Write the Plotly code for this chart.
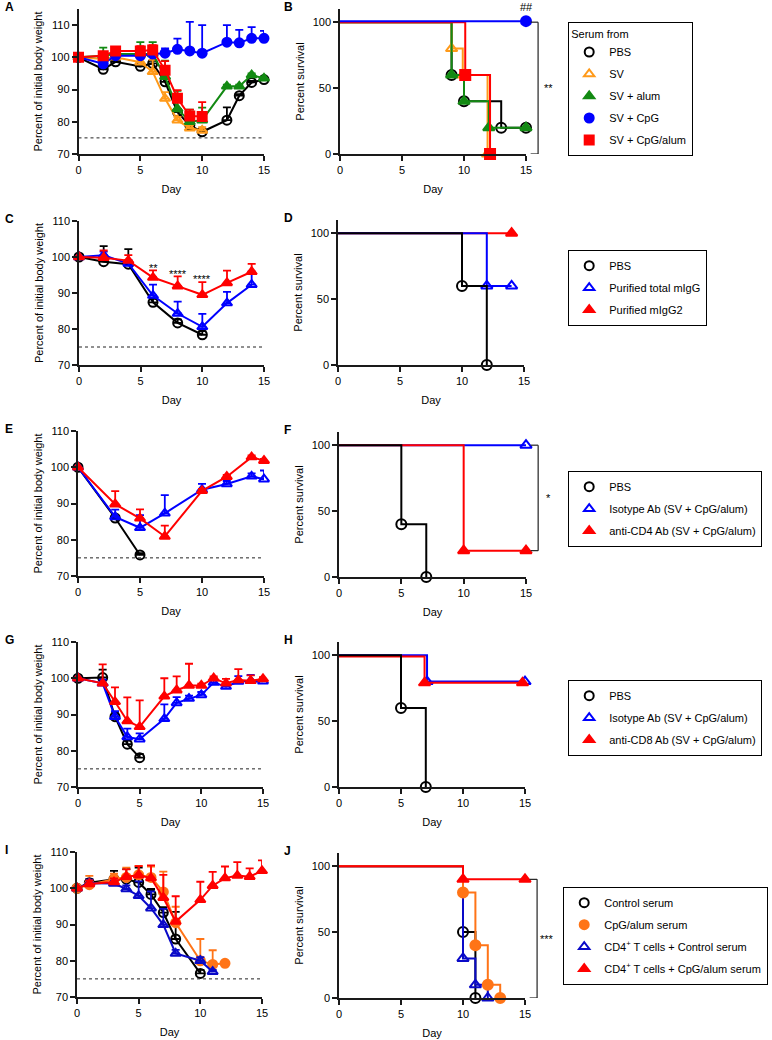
import plotly.graph_objects as go

W, H = 772, 1040
FONT = "Arial, Liberation Sans, sans-serif"
THRESH = 75

BLACK = "#000000"
ORANGE_A = "#FF9A1A"
GREEN = "#138A13"
BLUE = "#0000FF"
RED = "#FF0000"
ORANGE_I = "#FF7417"
BLUE_I = "#0A0AC8"

# ---------------- Panel A: body weight (serum transfer) ----------------
A_pbs_day = [0, 2, 3, 5, 6, 7, 8, 9, 10, 12, 13, 14, 15]
A_pbs = [100, 96.3, 98.6, 97.2, 98.1, 92.4, 83.0, 78.9, 76.9, 80.5, 88.1, 92.2, 93.1]
A_pbs_err = [0, 0.5, 0.5, 0.5, 0.8, 1, 1, 1, 0.5, 4, 0.5, 0.5, 0.5]
A_sv_day = [0, 2, 3, 5, 6, 7, 8, 9, 10]
A_sv = [100, 99.5, 100, 98.5, 95.5, 87.2, 80.5, 78.0, 77.3]
A_sv_err = [0, 0.5, 0.5, 1, 3.7, 2, 1, 1, 1]
A_alum_day = [0, 2, 3, 5, 6, 7, 8, 9, 10, 12, 13, 14, 15]
A_alum = [100, 100.5, 101, 101, 101, 94, 84, 80, 80.5, 91, 91, 94.5, 93.5]
A_alum_err = [0, 2.5, 1, 3.7, 3.7, 5, 5.6, 3.8, 3.9, 0.5, 0.5, 0.5, 0.5]
A_cpg_day = [0, 2, 3, 5, 6, 7, 8, 9, 10, 12, 13, 14, 15]
A_cpg = [100, 98, 100.5, 100.5, 101, 101.3, 102.5, 102, 101.3, 104.7, 104.5, 105.9, 105.9]
A_cpg_err = [0, 1, 0.5, 1, 1, 1.5, 3.3, 9, 8.7, 5.3, 4.0, 3.5, 2.3]
A_ca_day = [0, 2, 3, 5, 6, 7, 8, 9, 10]
A_ca = [100, 100.5, 102, 102, 102.3, 96, 87.3, 81.8, 81.6]
A_ca_err = [0, 1, 1.2, 1.5, 1.5, 2.8, 2.5, 2, 4.5]

# ---------------- Panel B: survival ----------------
B_pbs_x = [0, 9, 10, 13, 15];   B_pbs_y = [100, 60, 40, 20, 20]
B_sv_x = [0, 9, 9.9, 11.9];     B_sv_y = [100, 80, 60, 0]
B_alum_x = [0, 9, 10, 12, 15];  B_alum_y = [100, 60, 40, 20, 20]
B_cpg_x = [0, 15];              B_cpg_y = [100.8, 100.8]
B_ca_x = [0, 10.1, 12.1];       B_ca_y = [100, 60, 0]

# ---------------- Panel C: body weight (purified IgG) ----------------
C_pbs_day = [0, 2, 4, 6, 8, 10]
C_pbs = [100, 98.7, 98.0, 87.4, 81.7, 78.4]
C_pbs_err = [0, 4.3, 4.2, 1, 1, 1]
C_day = [0, 2, 4, 6, 8, 10, 12, 14]
C_igg = [100, 100.5, 98.2, 89.3, 84.3, 80.6, 87.2, 92.3]
C_igg_err = [0, 1, 1, 3, 3.3, 3.6, 3.1, 3.6]
C_igg2 = [100, 99.8, 99.0, 94.3, 91.9, 89.5, 92.8, 95.9]
C_igg2_err = [0, 2, 1.5, 2, 2.7, 3.5, 3.4, 2.2]
C_sig_day = [6, 8, 10]
C_sig_y = [96.9, 95.2, 93.8]
C_sig_txt = ["**", "****", "****"]

# ---------------- Panel D: survival ----------------
D_pbs_x = [0, 10, 12];  D_pbs_y = [100, 60, 0]
D_igg_x = [0, 12, 14];  D_igg_y = [100, 60, 60]
D_igg2_x = [0, 14];     D_igg2_y = [100, 100]

# ---------------- Panel E: body weight (CD4 depletion) ----------------
E_pbs_day = [0, 3, 5]
E_pbs = [100, 86, 75.8]
E_pbs_err = [0, 0.5, 0.5]
E_day = [0, 3, 5, 7, 10, 12, 14, 15]
E_iso = [100, 86.3, 83.3, 87.3, 93.8, 95.4, 97.5, 96.7]
E_iso_err = [0, 2, 3.5, 5, 1.6, 0.8, 0.8, 2.4]
E_cd4 = [100, 89.8, 85.9, 80.9, 93.5, 97.4, 102.8, 101.8]
E_cd4_err = [0, 3.6, 2.5, 3, 0.5, 0.5, 0.5, 0.5]

# ---------------- Panel F: survival ----------------
F_pbs_x = [0, 5, 7];    F_pbs_y = [100, 40, 0]
F_iso_x = [0, 15];      F_iso_y = [100, 100]
F_cd4_x = [0, 10, 15];  F_cd4_y = [100, 20, 20]

# ---------------- Panel G: body weight (CD8 depletion) ----------------
G_pbs_day = [0, 2, 3, 4, 5]
G_pbs = [100, 100.2, 89.4, 81.8, 78.1]
G_pbs_err = [0, 2.2, 1, 1, 1]
G_day = [0, 2, 3, 4, 5, 7, 8, 9, 10, 11, 12, 13, 14, 15]
G_iso = [100, 98.6, 89.4, 83.8, 83.2, 88.8, 93.2, 94.4, 95.4, 98.8, 97.7, 99.1, 99.3, 99.2]
G_iso_err = [0, 1, 1.5, 2.3, 1.6, 4, 1.6, 0.8, 0.8, 0.8, 0.8, 1.5, 1.6, 0.8]
G_cd8 = [100, 98.6, 93.5, 88.2, 86.6, 95, 96.7, 98, 98, 100, 98.6, 99.5, 99.3, 99.8]
G_cd8_err = [0, 5.2, 4, 6.5, 7.3, 5, 3.8, 6, 0.5, 0.5, 1.2, 3, 1.5, 0.5]

# ---------------- Panel H: survival ----------------
H_pbs_x = [0, 5, 7];          H_pbs_y = [100, 60, 0]
H_iso_x = [0, 7.1, 15];       H_iso_y = [100, 80, 80]
H_cd8_x = [0, 6.9, 14.8];     H_cd8_y = [99, 79, 79]

# ---------------- Panel I: body weight (CD4 T cells + serum) ----------------
I_ctrl_day = [0, 1, 3, 4, 5, 6, 7, 8, 10]
I_ctrl = [100, 101.5, 102.5, 102.5, 101.6, 98.3, 93.3, 86.0, 76.5]
I_ctrl_err = [0, 1, 2.3, 2.8, 4.1, 1.5, 1.5, 7.5, 1]
I_cpg_day = [0, 1, 3, 4, 5, 6, 7, 8, 10, 11, 12]
I_cpg = [100, 101, 102.5, 103, 103.7, 103, 99, 90.5, 80, 79, 79.3]
I_cpg_err = [0, 2.4, 1.5, 2.7, 2.5, 3, 5.6, 4.4, 6, 3.9, 0]
I_cd4c_day = [0, 1, 3, 4, 5, 6, 7, 8, 10, 11]
I_cd4c = [100, 101.4, 101.3, 99.8, 97.9, 94.5, 89.9, 82.0, 80.0, 77.0]
I_cd4c_err = [0, 1, 0.8, 1, 4, 4.6, 4.4, 1, 1, 0.5]
I_cd4p_day = [0, 1, 3, 4, 5, 6, 7, 8, 10, 11, 12, 13, 14, 15]
I_cd4p = [100, 101.2, 101.7, 103.2, 103.6, 102.8, 97.4, 90.8, 96.8, 100.7, 102.8, 103.5, 103.2, 104.8]
I_cd4p_err = [0, 1, 1, 2, 2.5, 3.5, 6.3, 7, 5, 3.8, 3.2, 3.7, 2.3, 2.9]

# ---------------- Panel J: survival ----------------
J_ctrl_x = [0, 10, 11];           J_ctrl_y = [100, 50, 0]
J_cpg_x = [0, 10, 11, 12, 13];    J_cpg_y = [100, 80, 40, 10, 0]
J_cd4c_x = [0, 10, 11, 12];       J_cd4c_y = [100, 30, 10, 0]
J_cd4p_x = [0, 10, 15];           J_cd4p_y = [100, 90, 90]

# ---------------- layout geometry (pixels) ----------------
PANELS = {
    "A": (78.5, 264, 9, 154, [70, 115], "w"),
    "B": (340, 526, 9, 154, [0, 110], "s"),
    "C": (79, 264, 221, 365, [70, 110], "w"),
    "D": (338, 524, 220, 365, [0, 110], "s"),
    "E": (78, 264, 431, 576, [70, 110], "w"),
    "F": (339, 526, 432, 577, [0, 110], "s"),
    "G": (78, 263, 642, 787, [70, 110], "w"),
    "H": (339, 525, 642, 787, [0, 110], "s"),
    "I": (77, 262, 852, 997, [70, 110], "w"),
    "J": (339, 525, 853, 998, [0, 110], "s"),
}
ORDER = list(PANELS.keys())
AX = {k: i + 1 for i, k in enumerate(ORDER)}

fig = go.Figure()
layout = dict(
    width=W, height=H, margin=dict(l=0, r=0, t=0, b=0, pad=0),
    paper_bgcolor="white", plot_bgcolor="white",
    font=dict(family=FONT, size=11, color="black"),
    annotations=[], shapes=[],
)

LINEC = "#1a1a1a"
for k, (l, r, t, b, yr, kind) in PANELS.items():
    i = AX[k]
    xa = dict(domain=[l / W, r / W], range=[0, 15], tickvals=[0, 5, 10, 15],
              ticks="outside", ticklen=5, tickwidth=1.5, tickcolor=LINEC,
              showline=True, linewidth=1.5, linecolor=LINEC, showgrid=False,
              zeroline=False, anchor="y%d" % i, automargin=False,
              title=dict(text="Day", standoff=10, font=dict(size=11)),
              tickfont=dict(size=11))
    if kind == "w":
        tv = [70, 80, 90, 100, 110]
        ytitle = "Percent of initial body weight"
    else:
        tv = [0, 50, 100]
        ytitle = "Percent survival"
    ya = dict(domain=[1 - b / H, 1 - t / H], range=yr, tickvals=tv,
              ticks="outside", ticklen=5, tickwidth=1.5, tickcolor=LINEC,
              showline=True, linewidth=1.5, linecolor=LINEC, showgrid=False,
              zeroline=False, anchor="x%d" % i, automargin=False,
              title=dict(text=ytitle, standoff=6, font=dict(size=11)),
              tickfont=dict(size=11))
    layout["xaxis%s" % ("" if i == 1 else i)] = xa
    layout["yaxis%s" % ("" if i == 1 else i)] = ya
    layout["annotations"].append(dict(
        text="<b>%s</b>" % k, xref="paper", yref="paper",
        x=(3 if kind == "w" else 282) / W, y=1 - (t - 2) / H,
        xanchor="left", yanchor="middle", showarrow=False,
        font=dict(size=12, family=FONT)))
    if kind == "w":
        layout["shapes"].append(dict(
            type="line", xref="x%d" % i, yref="y%d" % i, x0=0, x1=15,
            y0=THRESH, y1=THRESH, line=dict(color="#222", width=1, dash="3px,3px")))


def axn(k):
    i = AX[k]
    return ("x" if i == 1 else "x%d" % i), ("y" if i == 1 else "y%d" % i)


def mk(symbol, color, size=9):
    return dict(symbol=symbol, size=size, color=color, opacity=1,
                line=dict(color=color, width=2))


def weight(k, x, y, err, color, symbol):
    xa, ya = axn(k)
    fig.add_trace(go.Scatter(
        x=x, y=y, mode="lines+markers", xaxis=xa, yaxis=ya, showlegend=False,
        line=dict(color=color, width=2), marker=mk(symbol, color),
        error_y=dict(type="data", symmetric=False, array=err,
                     arrayminus=[0] * len(err), color=color, thickness=1.8, width=4),
        cliponaxis=False))


def surv(k, x, y, color, symbol):
    xa, ya = axn(k)
    sizes = [0] + [10] * (len(x) - 1)
    fig.add_trace(go.Scatter(
        x=x, y=y, mode="lines+markers", xaxis=xa, yaxis=ya, showlegend=False,
        line=dict(color=color, width=2, shape="hv"),
        marker=dict(symbol=symbol, size=sizes, color=color, opacity=1,
                    line=dict(color=color, width=2)),
        cliponaxis=False))


def leg(k, legend, name, color, symbol, group):
    xa, ya = axn(k)
    fig.add_trace(go.Scatter(
        x=[None], y=[None], mode="markers", xaxis=xa, yaxis=ya, name=name,
        legend=legend, legendgroup=group, showlegend=True, marker=mk(symbol, color, 9)))


# A
weight("A", A_pbs_day, A_pbs, A_pbs_err, BLACK, "circle-open")
weight("A", A_sv_day, A_sv, A_sv_err, ORANGE_A, "triangle-up-open")
weight("A", A_alum_day, A_alum, A_alum_err, GREEN, "triangle-up")
weight("A", A_cpg_day, A_cpg, A_cpg_err, BLUE, "circle")
weight("A", A_ca_day, A_ca, A_ca_err, RED, "square")
# B
surv("B", B_pbs_x, B_pbs_y, BLACK, "circle-open")
surv("B", B_sv_x, B_sv_y, ORANGE_A, "triangle-up-open")
surv("B", B_alum_x, B_alum_y, GREEN, "triangle-up")
surv("B", B_ca_x, B_ca_y, RED, "square")
surv("B", B_cpg_x, B_cpg_y, BLUE, "circle")
# C
weight("C", C_pbs_day, C_pbs, C_pbs_err, BLACK, "circle-open")
weight("C", C_day, C_igg, C_igg_err, BLUE, "triangle-up-open")
weight("C", C_day, C_igg2, C_igg2_err, RED, "triangle-up")
# D
surv("D", D_igg2_x, D_igg2_y, RED, "triangle-up")
surv("D", D_igg_x, D_igg_y, BLUE, "triangle-up-open")
surv("D", D_pbs_x, D_pbs_y, BLACK, "circle-open")
# E
weight("E", E_pbs_day, E_pbs, E_pbs_err, BLACK, "circle-open")
weight("E", E_day, E_iso, E_iso_err, BLUE, "triangle-up-open")
weight("E", E_day, E_cd4, E_cd4_err, RED, "triangle-up")
# F
surv("F", F_iso_x, F_iso_y, BLUE, "triangle-up-open")
surv("F", F_cd4_x, F_cd4_y, RED, "triangle-up")
surv("F", F_pbs_x, F_pbs_y, BLACK, "circle-open")
# G
weight("G", G_pbs_day, G_pbs, G_pbs_err, BLACK, "circle-open")
weight("G", G_day, G_iso, G_iso_err, BLUE, "triangle-up-open")
weight("G", G_day, G_cd8, G_cd8_err, RED, "triangle-up")
# H
surv("H", H_iso_x, H_iso_y, BLUE, "triangle-up-open")
surv("H", H_cd8_x, H_cd8_y, RED, "triangle-up")
surv("H", H_pbs_x, H_pbs_y, BLACK, "circle-open")
# I
weight("I", I_ctrl_day, I_ctrl, I_ctrl_err, BLACK, "circle-open")
weight("I", I_cpg_day, I_cpg, I_cpg_err, ORANGE_I, "circle")
weight("I", I_cd4c_day, I_cd4c, I_cd4c_err, BLUE_I, "triangle-up-open")
weight("I", I_cd4p_day, I_cd4p, I_cd4p_err, RED, "triangle-up")
# J
surv("J", J_ctrl_x, J_ctrl_y, BLACK, "circle-open")
surv("J", J_cd4c_x, J_cd4c_y, BLUE_I, "triangle-up-open")
surv("J", J_cpg_x, J_cpg_y, ORANGE_I, "circle")
surv("J", J_cd4p_x, J_cd4p_y, RED, "triangle-up")

xa, ya = axn("C")
for d, yv, tx in zip(C_sig_day, C_sig_y, C_sig_txt):
    layout["annotations"].append(dict(x=d, y=yv, xref=xa, yref=ya, text=tx, showarrow=False,
                                      font=dict(size=11), xanchor="center", yanchor="middle"))
xa, ya = axn("B")
layout["annotations"].append(dict(x=B_cpg_x[-1], y=B_cpg_y[-1], xref=xa, yref=ya, text="##",
                                  showarrow=False, yshift=14, font=dict(size=11)))


def bracket(k, ytop, ybot, txt):
    i = AX[k]
    xr = "x%d domain" % i
    yr = "y%d" % i
    xb, xt = 1.065, 1.025
    for s in [dict(x0=xb, x1=xb, y0=ytop, y1=ybot), dict(x0=xt, x1=xb, y0=ytop, y1=ytop),
              dict(x0=xt, x1=xb, y0=ybot, y1=ybot)]:
        layout["shapes"].append(dict(type="line", xref=xr, yref=yr, line=dict(color="#222", width=1.2), **s))
    layout["annotations"].append(dict(x=1.12, y=(ytop + ybot) / 2, xref=xr, yref=yr, text=txt,
                                      showarrow=False, font=dict(size=11), xanchor="center"))


bracket("B", 100, 0, "**")
bracket("F", 100, 20, "*")
bracket("J", 90, 0, "***")

leg("A", "legend", "PBS", BLACK, "circle-open", "a1")
leg("A", "legend", "SV", ORANGE_A, "triangle-up-open", "a2")
leg("A", "legend", "SV + alum", GREEN, "triangle-up", "a3")
leg("A", "legend", "SV + CpG", BLUE, "circle", "a4")
leg("A", "legend", "SV + CpG/alum", RED, "square", "a5")
leg("D", "legend2", "PBS", BLACK, "circle-open", "d1")
leg("D", "legend2", "Purified total mIgG", BLUE, "triangle-up-open", "d2")
leg("D", "legend2", "Purified mIgG2", RED, "triangle-up", "d3")
leg("F", "legend3", "PBS", BLACK, "circle-open", "f1")
leg("F", "legend3", "Isotype Ab (SV + CpG/alum)", BLUE, "triangle-up-open", "f2")
leg("F", "legend3", "anti-CD4 Ab (SV + CpG/alum)", RED, "triangle-up", "f3")
leg("H", "legend4", "PBS", BLACK, "circle-open", "h1")
leg("H", "legend4", "Isotype Ab (SV + CpG/alum)", BLUE, "triangle-up-open", "h2")
leg("H", "legend4", "anti-CD8 Ab (SV + CpG/alum)", RED, "triangle-up", "h3")
leg("J", "legend5", "Control serum", BLACK, "circle-open", "j1")
leg("J", "legend5", "CpG/alum serum", ORANGE_I, "circle", "j2")
leg("J", "legend5", "CD4<sup>+</sup> T cells + Control serum", BLUE_I, "triangle-up-open", "j3")
leg("J", "legend5", "CD4<sup>+</sup> T cells + CpG/alum serum", RED, "triangle-up", "j4")


def legbox(left, top, title=None):
    d = dict(x=left / W, y=1 - top / H, xref="paper", yref="paper", xanchor="left", yanchor="top",
             bordercolor="black", borderwidth=1.2, bgcolor="white", traceorder="grouped",
             tracegroupgap=3, font=dict(size=11, family=FONT))
    if title:
        d["title"] = dict(text=title, side="top", font=dict(size=11))
    return d


layout["legend"] = legbox(568, 22, "Serum from")
layout["legend2"] = legbox(568, 250)
layout["legend3"] = legbox(568, 471)
layout["legend4"] = legbox(568, 680)
layout["legend5"] = legbox(563, 887)

fig.update_layout(**layout)
fig.write_html("out.html", config={"displayModeBar": False},
               post_script="document.body.style.margin='0';document.body.style.overflow='hidden';")
